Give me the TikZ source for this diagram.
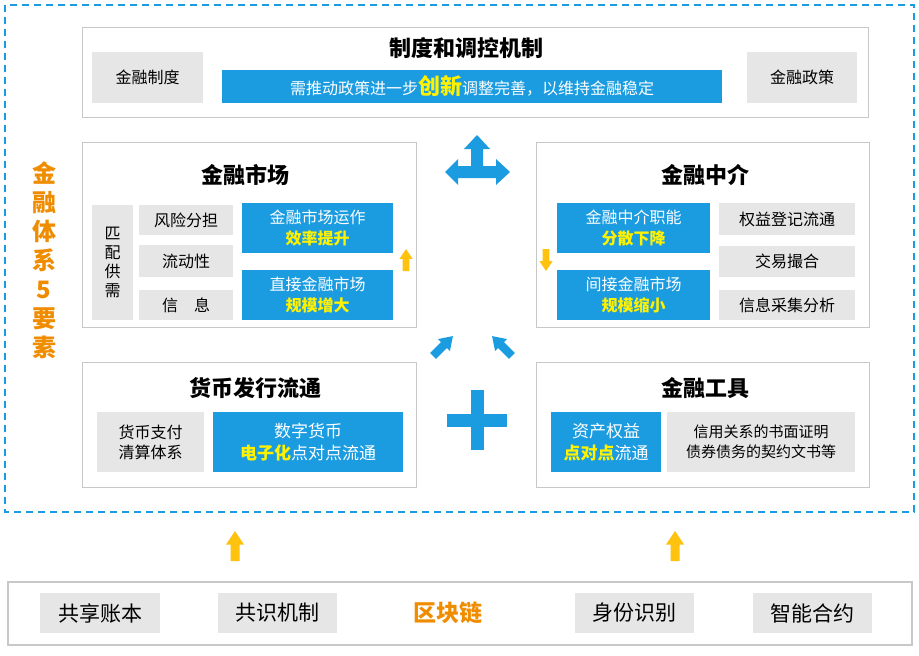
\documentclass[tikz,border=0pt]{standalone}
\usepackage{fontspec}
\setmainfont{Noto Sans CJK SC}
\definecolor{bblue}{HTML}{1B9CE0}
\definecolor{ggray}{HTML}{E6E6E6}
\definecolor{lline}{HTML}{C8C8C8}
\definecolor{yel}{HTML}{FFF200}
\definecolor{ora}{HTML}{F08C00}
\definecolor{gold}{HTML}{FFC20E}
\newcommand\fatarrow[4]{% position, rotation, scale, colour
  \fill[#4,shift={#1},rotate=#2,scale=#3] (-0.3,1) -- (0.3,1) -- (0.3,-0.1) -- (0.6,-0.1)
    -- (0,-1) -- (-0.6,-0.1) -- (-0.3,-0.1) -- cycle;}
\tikzset{
  panel/.style={draw=lline, line width=1pt, fill=white, inner sep=0pt},
  graybox/.style={fill=ggray, inner sep=0pt, align=center, font=\fontsize{16}{20}\selectfont},
  bluebox/.style={fill=bblue, text=white, inner sep=0pt, align=center, font=\fontsize{16}{21}\selectfont},
  title/.style={font=\fontsize{22}{26}\selectfont\bfseries},
  hi/.style={}
}
\newcommand\hl[1]{{\bfseries\color{yel}#1}}
\begin{document}
\begin{tikzpicture}[x=1pt,y=-1pt]
\useasboundingbox (0,0) rectangle (919,656);
% outer frame
\draw[bblue, line width=2pt, dash pattern=on 7pt off 5pt] (5,5) rectangle (914,512);
\node[text=ora, font=\fontsize{24}{29}\selectfont\bfseries, align=center] (five) at (44,260)
  {金\\融\\体\\系\\5\\要\\素};

% top panel
\node[panel, minimum width=786, minimum height=90] (sys) at (475,72) {};
\node[title] (systitle) at (466,48) {制度和调控机制};
\node[graybox, minimum width=111, minimum height=51] (zd) at (147.5,77.5) {金融制度};
\node[graybox, minimum width=110, minimum height=51] (zc) at (802,77.5) {金融政策};
\node[bluebox, minimum width=500, minimum height=33] (bar) at (472,86.5)
  {需推动政策进一步{\fontsize{22}{22}\selectfont\hl{创新}}调整完善，以维持金融稳定};

% financial market
\node[panel, minimum width=334, minimum height=185] (mkt) at (249,234.5) {};
\node[title] (mkttitle) at (245,175) {金融市场};
\node[graybox, minimum width=41, minimum height=115, font=\fontsize{16}{19}\selectfont] (pp) at (112.5,262.5) {匹\\配\\供\\需};
\node[graybox, minimum width=94, minimum height=30] (m1) at (186,220) {风险分担};
\node[graybox, minimum width=94, minimum height=32] (m2) at (186,261) {流动性};
\node[graybox, minimum width=94, minimum height=30] (m3) at (186,305) {信\quad 息};
\node[bluebox, minimum width=151, minimum height=50] (m4) at (317.5,228) {金融市场运作\\\hl{效率提升}};
\node[bluebox, minimum width=151, minimum height=50] (m5) at (317.5,295) {直接金融市场\\\hl{规模增大}};
\fatarrow{(406,260)}{0}{11}{gold}

% intermediary
\node[panel, minimum width=333, minimum height=185] (mid) at (702.5,234.5) {};
\node[title] (midtitle) at (705,175) {金融中介};
\node[bluebox, minimum width=153, minimum height=50] (i1) at (633.5,228) {金融中介职能\\\hl{分散下降}};
\node[bluebox, minimum width=153, minimum height=50] (i2) at (633.5,295) {间接金融市场\\\hl{规模缩小}};
\node[graybox, minimum width=136, minimum height=32] (i3) at (787,219) {权益登记流通};
\node[graybox, minimum width=136, minimum height=31] (i4) at (787,261.5) {交易撮合};
\node[graybox, minimum width=136, minimum height=30] (i5) at (787,305) {信息采集分析};
\fatarrow{(546,260)}{180}{11}{gold}

% currency
\node[panel, minimum width=334, minimum height=125] (cur) at (249,424.5) {};
\node[title] (curtitle) at (255,388) {货币发行流通};
\node[graybox, minimum width=107, minimum height=60] (c1) at (150.5,442) {货币支付\\清算体系};
\node[bluebox, minimum width=190, minimum height=60, font=\fontsize{17}{22}\selectfont] (c2) at (308,442)
  {数字货币\\\hl{电子化}点对点流通};

% instruments
\node[panel, minimum width=333, minimum height=125] (ins) at (702.5,424.5) {};
\node[title] (institle) at (705,388) {金融工具};
\node[bluebox, minimum width=110, minimum height=60, font=\fontsize{17}{22}\selectfont] (t1) at (606,442)
  {资产权益\\\hl{点对点}流通};
\node[graybox, minimum width=188, minimum height=60, font=\fontsize{15}{20}\selectfont] (t2) at (761,442)
  {信用关系的书面证明\\债券债务的契约文书等};

% blue connectors
\fill[bblue] (445,172) -- (458,159) -- (458,166) -- (471,166) -- (471,149) -- (464,149) -- (477,135)
  -- (490,149) -- (483,149) -- (483,166) -- (496,166) -- (496,159) -- (510,172) -- (496,185)
  -- (496,178) -- (458,178) -- (458,185) -- cycle;
\fatarrow{(443,346)}{-45}{14}{bblue}
\fatarrow{(502,346)}{45}{14}{bblue}
\fill[bblue] (447,413.5) rectangle (507,426.5);
\fill[bblue] (470.5,390) rectangle (483.5,450);

% blockchain base
\fatarrow{(235,546)}{0}{15}{gold}
\fatarrow{(675,546)}{0}{15}{gold}
\node[draw=lline, line width=2pt, minimum width=904, minimum height=63, inner sep=0pt] (base) at (460,613.5) {};
\node[graybox, minimum width=120, minimum height=40, font=\fontsize{21}{24}\selectfont] (b1) at (100,613) {共享账本};
\node[graybox, minimum width=119, minimum height=40, font=\fontsize{21}{24}\selectfont] (b2) at (277.5,613) {共识机制};
\node[text=ora, font=\fontsize{23}{26}\selectfont\bfseries] (bc) at (448,613) {区块链};
\node[graybox, minimum width=119, minimum height=40, font=\fontsize{21}{24}\selectfont] (b3) at (634.5,613) {身份识别};
\node[graybox, minimum width=119, minimum height=40, font=\fontsize{21}{24}\selectfont] (b4) at (812.5,613) {智能合约};
\end{tikzpicture}
\end{document}
